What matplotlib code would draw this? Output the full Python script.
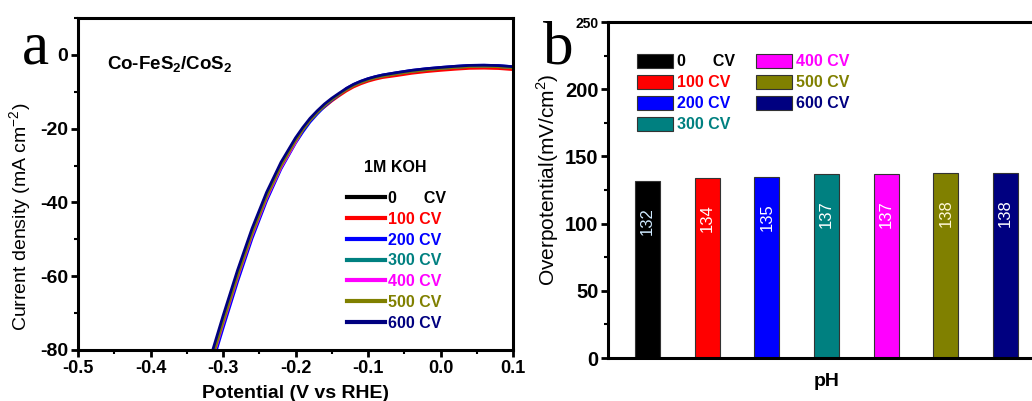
import matplotlib
matplotlib.use('Agg')
import matplotlib.pyplot as plt
from matplotlib.ticker import MultipleLocator

plt.rcParams['font.family'] = ['Liberation Sans', 'DejaVu Sans']
plt.rcParams['mathtext.fontset'] = 'custom'
plt.rcParams['mathtext.rm'] = 'Liberation Sans'
plt.rcParams['mathtext.bf'] = 'Liberation Sans:bold'
plt.rcParams['axes.unicode_minus'] = False

# ---- data, panel a (LSV curves after cycling) ----
potential = [-0.32, -0.30, -0.28, -0.26, -0.24, -0.22, -0.20, -0.19, -0.18, -0.17,
             -0.16, -0.15, -0.14, -0.13, -0.12, -0.11, -0.10, -0.09, -0.08, -0.06,
             -0.04, -0.02, 0.00, 0.02, 0.04, 0.06, 0.08, 0.10]
cv0 = [-85.6, -72.6, -60.1, -48.6, -38.6, -30.2, -23.4, -20.4, -17.8, -15.7,
       -13.8, -12.2, -10.8, -9.5, -8.4, -7.55, -6.85, -6.3, -5.85, -5.2,
       -4.6, -4.15, -3.8, -3.5, -3.25, -3.2, -3.3, -3.6]
cv100 = [-85.0, -72.0, -59.5, -48.0, -38.0, -29.6, -22.8, -20.2, -17.6, -15.5,
         -14.1, -12.5, -11.1, -9.8, -8.7, -7.85, -7.15, -6.6, -6.15, -5.6,
         -5.0, -4.55, -4.2, -3.9, -3.65, -3.6, -3.7, -4.0]
cv200 = [-87.1, -74.1, -61.5, -49.8, -39.6, -30.9, -23.9, -20.9, -18.2, -16.0,
         -14.0, -12.3, -10.8, -9.1, -8.0, -7.15, -6.45, -5.9, -5.45, -4.8,
         -4.2, -3.75, -3.4, -3.1, -2.85, -2.8, -2.9, -3.2]
cv300 = [-85.7, -72.7, -60.2, -48.7, -38.7, -30.3, -23.5, -20.3, -17.7, -15.6,
         -13.7, -12.1, -10.7, -9.4, -8.3, -7.45, -6.75, -6.2, -5.75, -5.1,
         -4.5, -4.05, -3.7, -3.4, -3.15, -3.1, -3.2, -3.5]
cv400 = [-85.9, -72.9, -60.4, -48.9, -38.9, -30.5, -23.7, -20.2, -17.6, -15.5,
         -13.6, -12.0, -10.6, -9.3, -8.2, -7.35, -6.65, -6.1, -5.65, -5.0,
         -4.4, -3.95, -3.6, -3.3, -3.05, -3.0, -3.1, -3.4]
cv500 = [-85.5, -72.5, -60.0, -48.5, -38.5, -30.1, -23.3, -20.3, -17.7, -15.6,
         -13.7, -12.1, -10.7, -9.4, -8.3, -7.45, -6.75, -6.2, -5.75, -5.1,
         -4.5, -4.05, -3.7, -3.4, -3.15, -3.1, -3.2, -3.5]
cv600 = [-83.8, -70.8, -58.4, -47.1, -37.3, -29.1, -22.5, -19.7, -17.2, -15.15,
         -13.3, -11.75, -10.4, -9.1, -8.0, -7.15, -6.45, -5.9, -5.45, -4.8,
         -4.2, -3.75, -3.4, -3.1, -2.85, -2.8, -2.9, -3.2]

labels = ['0      CV', '100 CV', '200 CV', '300 CV', '400 CV', '500 CV', '600 CV']
colors = ['#000000', '#ff0000', '#0000ff', '#008080', '#ff00ff', '#808000', '#000080']

# ---- data, panel b (overpotential) ----
overpotential = [132, 134, 135, 137, 137, 138, 138]
value_colors = ['#cfe9ff', 'white', 'white', 'white', 'white', '#fff8d8', 'white']

W, H = 1032, 401
fig = plt.figure(figsize=(W / 100, H / 100), dpi=100)

# ================= panel a =================
ax1 = fig.add_axes([78 / W, 1 - 350 / H, 435 / W, 332 / H])
for y, c, lab in zip([cv0, cv100, cv200, cv300, cv400, cv500, cv600], colors, labels):
    ax1.plot(potential, y, color=c, lw=2, label=lab)

ax1.set_xlim(-0.5, 0.1)
ax1.set_ylim(-80, 10)
ax1.xaxis.set_major_locator(MultipleLocator(0.1))
ax1.xaxis.set_minor_locator(MultipleLocator(0.05))
ax1.yaxis.set_major_locator(MultipleLocator(20))
ax1.yaxis.set_minor_locator(MultipleLocator(10))
ax1.tick_params(which='major', direction='out', length=5, width=2, pad=2)
ax1.tick_params(axis='x', labelsize=13)
ax1.tick_params(axis='y', labelsize=14)
ax1.tick_params(which='minor', direction='out', length=3, width=1.5)
for lab in ax1.get_xticklabels() + ax1.get_yticklabels():
    lab.set_fontweight('bold')
for s in ax1.spines.values():
    s.set_linewidth(2.2)

ax1.set_xlabel('Potential (V vs RHE)', fontsize=14, fontweight='bold')
ax1.xaxis.set_label_coords(0.5, -0.105)
ax1.set_ylabel('Current density (mA cm$^{-2}$)', fontsize=14)
ax1.yaxis.set_label_coords(-0.1, 0.40)
ax1.text(29 / 435, 1 - 47 / 332, r'Co-FeS$_\mathbf{2}$/CoS$_\mathbf{2}$', transform=ax1.transAxes,
         fontsize=13.5, fontweight='bold', va='center')
ax1.text((395 - 78) / 435, (350 - 167) / 332, '1M KOH', transform=ax1.transAxes,
         fontsize=11.5, fontweight='bold', ha='center', va='center')

leg1 = ax1.legend(loc='upper left', bbox_to_anchor=((347 - 78) / 435, (350 - 191) / 332),
                  frameon=False, handlelength=2.4, handletextpad=0.15, labelspacing=0.36,
                  borderpad=0, borderaxespad=0, labelcolor='linecolor',
                  prop={'weight': 'bold', 'size': 11.5})
for h in leg1.get_lines():
    h.set_linewidth(3)

fig.text(22 / W, 1 - 63 / H, 'a', fontsize=44, family='Liberation Serif', va='baseline')

# ================= panel b =================
ax2 = fig.add_axes([608 / W, 1 - 358 / H, 437 / W, 336 / H])
pos = range(1, len(overpotential) + 1)
bars = ax2.bar(pos, overpotential, width=0.42, color=colors, edgecolor='#333333',
               linewidth=0.8)
for x, v, tc in zip(pos, overpotential, value_colors):
    ax2.text(x, v - 30, str(v), rotation=90, ha='center', va='center', color=tc, fontsize=12)

ax2.set_xlim(0.34, 7.66)
ax2.set_ylim(0, 250)
ax2.yaxis.set_major_locator(MultipleLocator(50))
ax2.yaxis.set_minor_locator(MultipleLocator(25))
ax2.set_xticks([])
ax2.tick_params(axis='y', which='major', direction='out', length=5, width=2, labelsize=14.5, pad=2)
ax2.tick_params(axis='y', which='minor', direction='out', length=3, width=1.5)
ax2.set_yticks([0, 50, 100, 150, 200, 250])
ylabs = ax2.get_yticklabels()
for lab in ylabs:
    lab.set_fontweight('bold')
ylabs[-1].set_fontsize(10)
for s in ax2.spines.values():
    s.set_linewidth(2.2)

ax2.set_xlabel('pH', fontsize=14, fontweight='bold')
ax2.xaxis.set_label_coords(0.5, -0.045)
ax2.set_ylabel('Overpotential(mV/cm$^{2}$)', fontsize=15)
ax2.yaxis.set_label_coords(-0.108, 0.53)

handles = [bars[i] for i in range(len(bars))]
fig.legend(handles, labels, loc='upper left', bbox_to_anchor=(637 / W, 1 - 54 / H),
           ncol=2, frameon=False, handlelength=2.25, handleheight=0.95,
           handletextpad=0.25, labelspacing=0.35, columnspacing=1.35,
           borderpad=0, borderaxespad=0, labelcolor=colors,
           prop={'weight': 'bold', 'size': 11.5})

fig.text(543 / W, 1 - 63 / H, 'b', fontsize=44, family='Liberation Serif', va='baseline')

fig.savefig('out.png', dpi=100)
